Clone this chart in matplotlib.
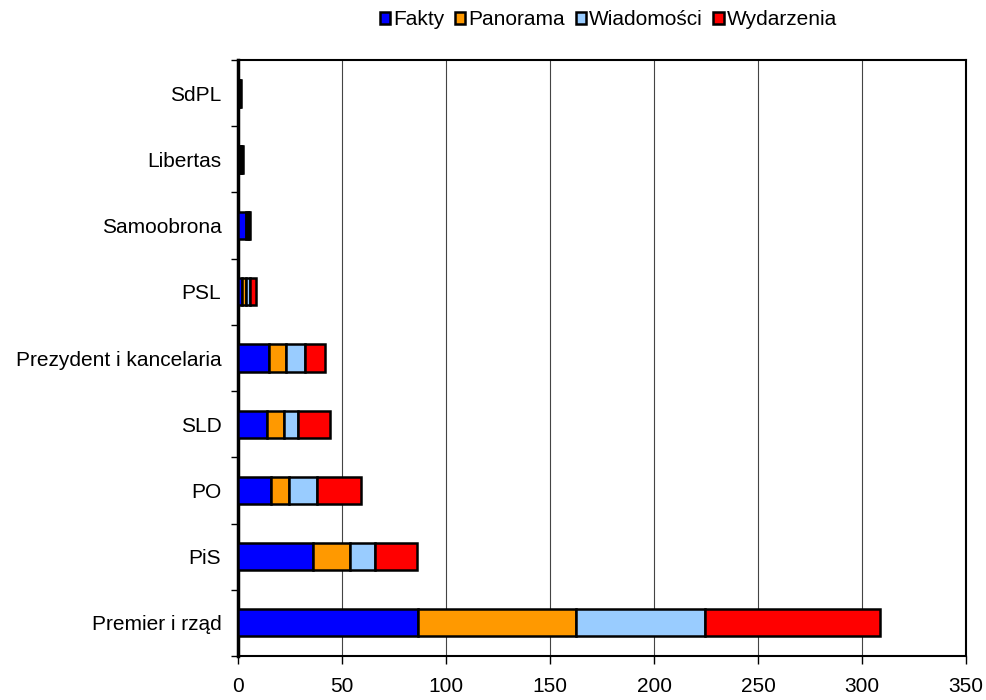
import numpy as np
import matplotlib
matplotlib.use('Agg')
import matplotlib.pyplot as plt

plt.rcParams['font.family'] = ['Liberation Sans', 'DejaVu Sans']

# categories bottom to top
categories = ['Premier i rząd', 'PiS', 'PO', 'SLD', 'Prezydent i kancelaria',
              'PSL', 'Samoobrona', 'Libertas', 'SdPL']
fakty = [86.5, 36, 16, 14, 15, 2, 4, 1, 0.5]
panorama = [76, 18, 8.5, 8, 8, 2, 1, 0.5, 0]
wiadomosci = [62, 12, 13.5, 7, 9, 2, 0.5, 0.5, 0.5]
wydarzenia = [84, 20, 21, 15, 10, 2.5, 0.5, 0.5, 0.5]

series = [('Fakty', fakty, '#0000FF'),
          ('Panorama', panorama, '#FF9900'),
          ('Wiadomości', wiadomosci, '#99CCFF'),
          ('Wydarzenia', wydarzenia, '#FF0000')]

fig = plt.figure(figsize=(9.86, 7.0), dpi=100)
ax = fig.add_axes([238 / 986, 1 - 656 / 700, 728 / 986, 596 / 700])

y = np.arange(len(categories))
left = np.zeros(len(categories))
for name, vals, col in series:
    ax.barh(y, vals, left=left, height=0.41, color=col, edgecolor='black',
            linewidth=1.8, label=name, zorder=3)
    left += np.array(vals)

ax.set_xlim(0, 350)
ax.set_ylim(-0.5, len(categories) - 0.5)
ax.set_xticks(np.arange(0, 351, 50))
ax.set_yticks(y)
ax.set_yticklabels(categories)
ax.set_yticks(np.arange(-0.5, len(categories), 1), minor=True)
ax.tick_params(axis='y', which='major', length=0, pad=12, labelsize=15)
ax.tick_params(axis='y', which='minor', length=5, direction='out', width=1)
ax.tick_params(axis='x', length=6, direction='out', width=1, labelsize=15, pad=9)
ax.xaxis.grid(True, color='#444444', linewidth=0.8, zorder=0)

for s in ['top', 'right', 'bottom']:
    ax.spines[s].set_linewidth(1.5)
ax.spines['left'].set_linewidth(2.5)

fig.legend(loc='upper center', bbox_to_anchor=(0.617, 1.012), ncol=4, frameon=False,
           fontsize=15, handlelength=0.5, handleheight=0.5, handletextpad=0.15,
           columnspacing=0.5)

fig.savefig('out.png', dpi=100)
